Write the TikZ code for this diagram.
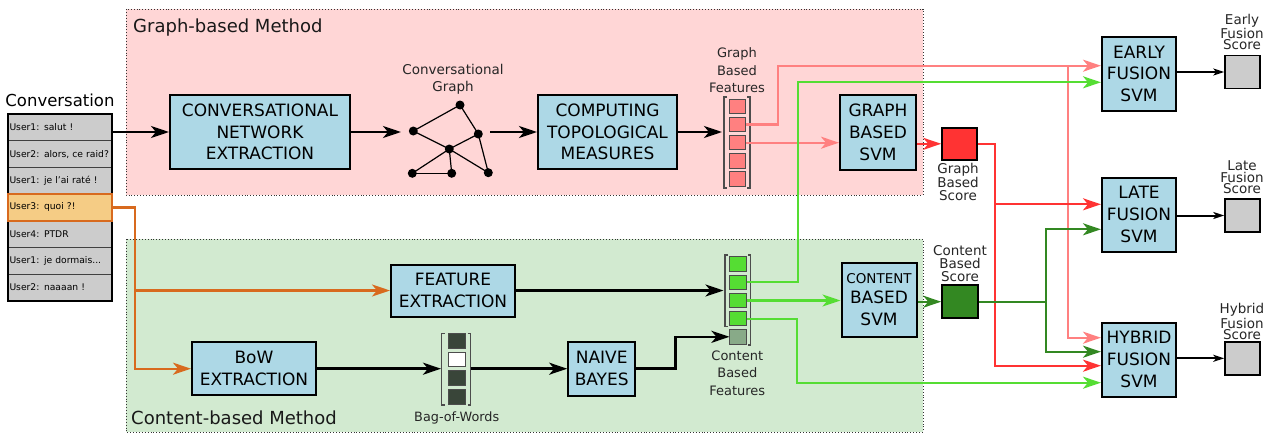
\documentclass[tikz,border=0pt]{standalone}
\usepackage{fontspec}
\setmainfont{DejaVu Sans}
\usetikzlibrary{arrows.meta,calc}
\definecolor{pinkbg}{HTML}{FFD6D6}
\definecolor{greenbg}{HTML}{D2EAD0}
\definecolor{boxblue}{HTML}{ADD8E6}
\definecolor{featpink}{HTML}{FF8080}
\definecolor{brightgreen}{HTML}{55DD33}
\definecolor{darkgreen}{HTML}{338822}
\definecolor{scorered}{HTML}{FF3333}
\definecolor{orangeline}{HTML}{D86A1E}
\definecolor{orangefill}{HTML}{F5CC85}
\definecolor{rowgray}{HTML}{CCCCCC}
\definecolor{bagdark}{HTML}{394539}
\definecolor{nbgreen}{HTML}{88AA88}
\newcommand\myfs[2]{\fontsize{#1}{#2}\selectfont}
\begin{document}
\begin{tikzpicture}[x=1pt,y=-1pt,
  box/.style={draw, line width=2pt, fill=boxblue, align=center, inner sep=0pt, font=\myfs{17}{21.7}},
  arr/.style={line width=2.6pt, -{Stealth[length=18pt,width=12pt,inset=5pt]}},
  carr/.style={line width=2.3pt, -{Stealth[length=18pt,width=12pt,inset=5pt]}},
  sarr/.style={line width=2pt, -{Stealth[length=11pt,width=7pt,inset=3pt]}},
  rowbox/.style={draw=black!75, line width=1.2pt, fill=rowgray, minimum height=26.7pt, text width=101pt, inner xsep=1.5pt, inner ysep=0pt, align=left, font=\myfs{9.2}{10}},
  feat/.style={draw=black!70, line width=1pt, minimum width=16.5pt, minimum height=14.5pt, inner sep=0pt},
  brk/.style={draw=black!70, line width=1.2pt},
  gdot/.style={circle, fill=black, minimum size=9pt, inner sep=0pt},
  score/.style={draw, line width=1.5pt, minimum width=35pt, minimum height=33pt, inner sep=0pt},
  lbl/.style={align=center, inner sep=0pt, text=black!85},
  method/.style={draw=black!80, dotted, line width=0.9pt}
]
\useasboundingbox (0,0) rectangle (1274,434);
% backgrounds
\fill[pinkbg] (126,9) rectangle (923,195);
\draw[method] (126,9) rectangle (923,195);
\fill[greenbg] (126,239) rectangle (923,432);
\draw[method] (126,239) rectangle (923,432);
\node[anchor=west, inner sep=0pt, font=\myfs{18}{20}, text=black!90] (glabel) at (133,28) {Graph-based Method};
\node[anchor=west, inner sep=0pt, font=\myfs{18}{20}, text=black!90] (clabel) at (131,418) {Content-based Method};

% conversation
\node[inner sep=0pt, font=\myfs{16.5}{18}] (convlbl) at (60,100) {Conversation};
\node[rowbox] (row1) at (60,127.35) {User1: salut !};
\node[rowbox] (row2) at (60,154.05) {User2: alors, ce raid?};
\node[rowbox] (row3) at (60,180.75) {User1: je l'ai raté !};
\node[rowbox] (row5) at (60,234.15) {User4: PTDR};
\node[rowbox] (row6) at (60,260.85) {User1: je dormais...};
\node[rowbox] (row7) at (60,287.55) {User2: naaaan !};
\draw[line width=2pt] (8,114) rectangle (112,301);
\node[rowbox, draw=orangeline, line width=2pt, fill=orangefill] (row4) at (60,207.45) {User3: quoi ?!};

% process boxes
\node[box, minimum width=180pt, minimum height=74pt] (cne) at (260,132) {CONVERSATIONAL\\NETWORK\\EXTRACTION};
\node[box, minimum width=139pt, minimum height=74pt] (ctm) at (607.5,132) {COMPUTING\\TOPOLOGICAL\\MEASURES};
\node[box, minimum width=76pt, minimum height=75pt] (gsvm) at (878,132.5) {GRAPH\\BASED\\SVM};
\node[box, minimum width=75pt, minimum height=74pt] (csvm) at (879,299.5) {{\myfs{13.5}{16}CONTENT}\\[-2pt]BASED\\SVM};
\node[box, minimum width=124pt, minimum height=52pt] (fe) at (453,290.5) {FEATURE\\EXTRACTION};
\node[box, minimum width=124pt, minimum height=53pt] (bow) at (254,368.7) {BoW\\EXTRACTION};
\node[box, minimum width=67pt, minimum height=54pt] (nb) at (601.7,368.7) {NAIVE\\BAYES};
\node[box, minimum width=74pt, minimum height=74pt] (early) at (1139,73.7) {EARLY\\FUSION\\SVM};
\node[box, minimum width=74pt, minimum height=74pt] (late) at (1139,214.5) {LATE\\FUSION\\SVM};
\node[box, minimum width=74pt, minimum height=74pt] (hybrid) at (1139,359.5) {HYBRID\\FUSION\\SVM};

% graph
\node[lbl, font=\myfs{13.5}{17.5}] (graphlbl) at (453,79.5) {Conversational\\Graph};
\node[gdot] (ga) at (413.3,131) {};
\node[gdot] (gb) at (460,105) {};
\node[gdot] (gc) at (478.3,134) {};
\node[gdot] (gd) at (449.3,149) {};
\node[gdot] (ge) at (412.3,173.3) {};
\node[gdot] (gf) at (451.7,173.3) {};
\node[gdot] (gg) at (488.3,172.7) {};
\foreach \a/\b in {ga/gb,gb/gc,ga/gd,gd/gc,gd/ge,gd/gf,gd/gg,ge/gf,gc/gg}
  \draw[line width=1.2pt] (\a.center) -- (\b.center);
\coordinate (gin) at (401,132);
\coordinate (gout) at (490,132);

% graph features
\node[lbl, font=\myfs{13}{17.5}] (gflbl) at (737,70.5) {Graph\\Based\\Features};
\foreach \i/\y in {1/106.3,2/124.5,3/142.7,4/160.9,5/179.1}
  \node[feat, fill=featpink] (gf\i) at (737.5,\y) {};
\draw[brk] (727,97) -- (724,97) -- (724,188) -- (727,188);
\draw[brk] (747,97) -- (750,97) -- (750,188) -- (747,188);
\coordinate (gfin) at (722,132);

% content features
\foreach \i/\y in {1/264.2,2/282.3,3/300.5,4/318.7}
  \node[feat, fill=brightgreen, minimum width=16.7pt] (cf\i) at (738.3,\y) {};
\node[feat, fill=nbgreen, minimum width=16.7pt] (cf5) at (738.3,336.8) {};
\draw[brk] (728,255) -- (725,255) -- (725,326.7) -- (728,326.7);
\draw[brk] (748,255) -- (750.7,255) -- (750.7,345) -- (748,345);
\node[lbl, font=\myfs{13}{17.5}] (cflbl) at (737.3,372.8) {Content\\Based\\Features};
\coordinate (cfin) at (723.5,290.5);

% bag of words
\foreach \i/\y in {1/341,3/378.2,4/396.8}
  \node[feat, fill=bagdark, minimum width=16.7pt] (bag\i) at (456.7,\y) {};
\node[feat, fill=white, minimum width=16.7pt] (bag2) at (456.7,359.6) {};
\draw[brk] (444.7,333.3) -- (441.7,333.3) -- (441.7,405) -- (444.7,405);
\draw[brk] (467.7,333.3) -- (470.7,333.3) -- (470.7,405) -- (467.7,405);
\node[lbl, font=\myfs{12.8}{14}] (baglbl) at (456.7,418.3) {Bag-of-Words};
\coordinate (bagin) at (441,368.7);
\coordinate (bagout) at (470.7,368.7);

% scores
\node[score, fill=scorered, minimum width=35pt, minimum height=32pt] (gscore) at (959.5,143.8) {};
\node[score, fill=darkgreen, minimum width=36pt] (cscore) at (960,301.7) {};
\node[score, fill=rowgray] (escore) at (1242.5,72) {};
\node[score, fill=rowgray] (lscore) at (1242.5,215.5) {};
\node[score, fill=rowgray] (hscore) at (1242.5,358.3) {};
\node[lbl, font=\myfs{13.5}{13}] (gslbl) at (958,181.8) {Graph\\Based\\Score};
\node[lbl, font=\myfs{13.5}{13}] (cslbl) at (960,264) {Content\\Based\\Score};
\node[lbl, font=\myfs{13.5}{11.5}] (eslbl) at (1242,32) {Early\\Fusion\\Score};
\node[lbl, font=\myfs{13.5}{11.5}] (lslbl) at (1242,177.3) {Late\\Fusion\\Score};
\node[lbl, font=\myfs{13.5}{11.5}] (hslbl) at (1242,321.7) {Hybrid\\Fusion\\Score};

% black arrows
\draw[arr] (cne.west -| row1.east) -- (cne.west);
\draw[arr] (cne.east) -- (gin);
\draw[arr] (gout) -- (ctm.west);
\draw[arr] (ctm.east) -- (gfin);
\draw[arr] (fe.east) -- (cfin);
\draw[arr] (bow.east) -- (bagin);
\draw[arr] (bagout) -- (nb.west);
\draw[arr] (nb.east) -- (675.7,368.7) |- (cf5.west);

% orange
\coordinate (obr) at (135,290.5);
\draw[carr, orangeline] (row4.east) -- (135,207.45) |- (bow.west);
\draw[carr, orangeline] (obr) -- (fe.west);

% pink
\coordinate (pbr) at (1068,65.7);
\draw[carr, featpink] (gf2.east) -- (777.7,124.5) |- ($(early.west)+(0,-8)$);
\draw[carr, featpink] (pbr) |- ($(hybrid.west)+(0,-21.8)$);
\draw[carr, featpink] (gf3.east) -- (gf3.east -| gsvm.west);

% bright green
\draw[carr, brightgreen] (cf2.east) -- (797.7,282.3) |- ($(early.west)+(0,8.6)$);
\draw[carr, brightgreen] (cf3.east) -- (cf3.east -| csvm.west);
\draw[carr, brightgreen] (cf4.east) -- (796.7,318.7) |- ($(hybrid.west)+(0,23.2)$);

% red
\coordinate (rbr) at (995,204.3);
\draw[carr, scorered] (gscore.west -| gsvm.east) -- (gscore.west);
\draw[carr, scorered] (gscore.east) -- (995,143.8) |- ($(hybrid.west)+(0,6.2)$);
\draw[carr, scorered] (rbr) -- ($(late.west)+(0,-10.2)$);

% dark green
\coordinate (dgbr) at (1045.7,301.7);
\draw[carr, darkgreen] (cscore.west -| csvm.east) -- (cscore.west);
\draw[carr, darkgreen] (cscore.east) -- (1045.7,301.7) |- ($(late.west)+(0,14.8)$);
\draw[carr, darkgreen] (dgbr) |- ($(hybrid.west)+(0,-7.8)$);

% outputs
\draw[sarr] (escore.west -| early.east) -- (escore.west);
\draw[sarr] (lscore.west -| late.east) -- (lscore.west);
\draw[sarr] (hscore.west -| hybrid.east) -- (hscore.west);
\end{tikzpicture}
\end{document}
